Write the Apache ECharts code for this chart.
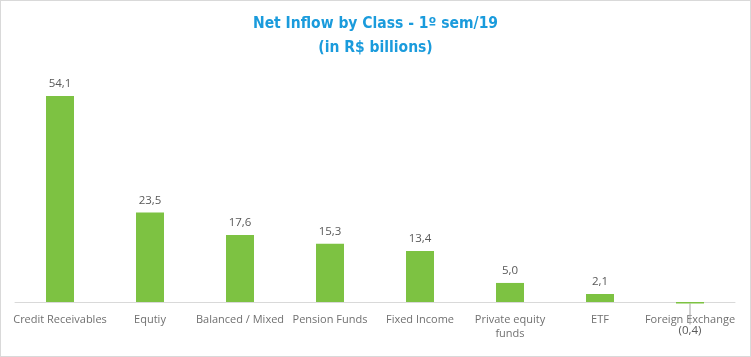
<!DOCTYPE html>
<html><head><meta charset="utf-8">
<script src="https://cdn.jsdelivr.net/npm/echarts@6/dist/echarts.min.js"></script>
<style>
html,body{margin:0;padding:0;background:#fff;}
#c{position:absolute;left:0;top:0;width:749px;height:355px;border:1px solid #d9d9d9;}
</style></head>
<body><div id="c"></div>
<script>
const categories = ['Credit Receivables','Equtiy','Balanced / Mixed','Pension Funds','Fixed Income','Private equity\nfunds','ETF','Foreign Exchange'];
const values = [54.1, 23.5, 17.6, 15.3, 13.4, 5.0, 2.1, -0.4];

function fmt(v){
  const s = Math.abs(v).toFixed(1).replace('.', ',');
  return v < 0 ? '(' + s + ')' : s;
}
const chart = echarts.init(document.getElementById('c'));
chart.setOption({
  animation:false,
  title:{
    text:'Net Inflow by Class - 1º sem/19\n(in R$ billions)',
    left:'center', top:6,
    textStyle:{color:'#1A9BDC', fontSize:15.5, fontWeight:'bold', fontFamily:'"DejaVu Sans Condensed","Noto Sans",sans-serif', lineHeight:24}
  },
  grid:{left:14, right:15, top:72.4, bottom:50.2},
  xAxis:{
    type:'category', data:categories,
    axisLine:{lineStyle:{color:'#d9d9d9'}},
    axisTick:{show:false},
    axisLabel:{color:'#707070', fontSize:11, fontFamily:'"Open Sans",sans-serif', margin:7, interval:0, lineHeight:14}
  },
  yAxis:{type:'value', min:-1, max:60, show:false, splitLine:{show:false}},
  series:[{
    type:'bar', barWidth:28,
    data: values.map(v => v < 0
      ? {value:v, label:{position:'bottom', distance:4}, labelLine:{show:true}}
      : v),
    itemStyle:{color:'#7DC242'},
    label:{
      show:true, position:'top', distance:6,
      color:'#595959', fontSize:11.5, fontFamily:'"Open Sans",sans-serif',
      formatter:p=>fmt(p.value)
    },
    labelLayout:function(p){ if(p.dataIndex===7){ return {dy:17}; } },
    labelLine:{show:false, lineStyle:{color:'#a6a6a6', width:1}, length2:0}
  }]
});
</script></body></html>
